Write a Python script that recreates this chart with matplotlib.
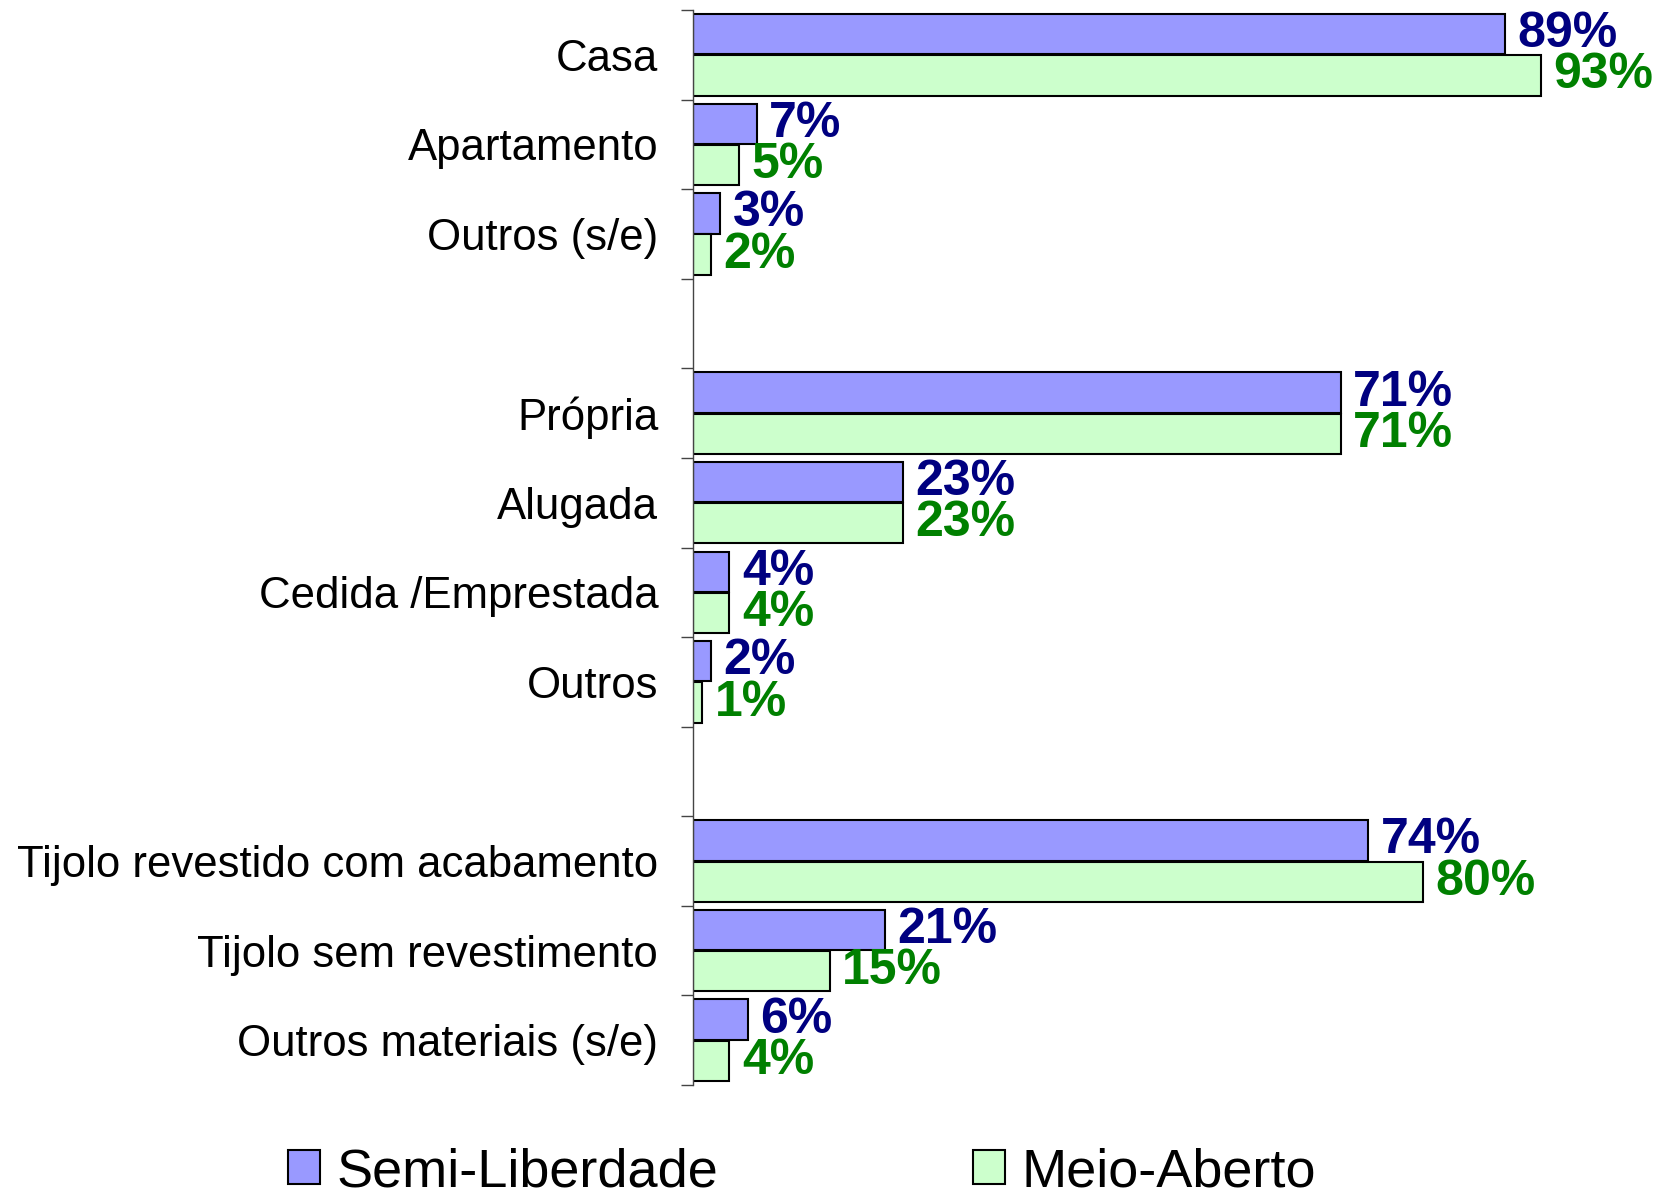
import matplotlib
matplotlib.use("Agg")
import matplotlib.pyplot as plt
import numpy as np

categories = ["Casa", "Apartamento", "Outros (s/e)", "",
              "Própria", "Alugada", "Cedida /Emprestada", "Outros", "",
              "Tijolo revestido com acabamento", "Tijolo sem revestimento", "Outros materiais (s/e)"]
semi_liberdade = [89, 7, 3, None, 71, 23, 4, 2, None, 74, 21, 6]
meio_aberto = [93, 5, 2, None, 71, 23, 4, 1, None, 80, 15, 4]
series_names = ["Semi-Liberdade", "Meio-Aberto"]

plt.rcParams['font.family'] = ['Liberation Sans', 'DejaVu Sans']

fig = plt.figure(figsize=(16.59, 11.93), dpi=100)
ax = fig.add_axes([0.4177, 0.0905, 0.5498, 0.9011])

n = len(categories)
pos = np.arange(n)
h = 0.45
blue_c = "#9999FF"
green_c = "#CCFFCC"

bars = []
for vals, off, col, tc, name in [(semi_liberdade, -0.23, blue_c, "#000080", series_names[0]),
                                 (meio_aberto, 0.23, green_c, "#008000", series_names[1])]:
    idx = [i for i, v in enumerate(vals) if v is not None]
    v = [vals[i] for i in idx]
    b = ax.barh(pos[idx] + off, v, height=h, color=col, edgecolor="black", linewidth=1.5, label=name)
    bars.append(b)
    for i, val in zip(idx, v):
        ax.annotate(f"{val}%", (val, i + off), xytext=(9, 0), textcoords="offset points",
                    ha="left", va="center", fontsize=36, fontweight="bold", color=tc)

ax.set_xlim(0, 100)
ax.set_ylim(n - 0.5, -0.5)
ax.set_xticks([])
ax.set_yticks(np.arange(n + 1) - 0.5)
ax.set_yticklabels([])
ax.tick_params(axis="y", which="major", length=9, width=1, color="#444444")
ax.set_yticks(pos, minor=True)
ax.set_yticklabels(categories, minor=True, fontsize=31.5)
ax.tick_params(axis="y", which="minor", length=0, pad=25)
for s in ["top", "right", "bottom"]:
    ax.spines[s].set_visible(False)
ax.spines["left"].set_color("#444444")
ax.spines["left"].set_linewidth(1)

fig.legend(handles=bars, labels=series_names, loc="center left", bbox_to_anchor=(0.1735, 0.0176),
           ncol=2, frameon=False, fontsize=39, handlelength=0.6, handleheight=0.6,
           handletextpad=0.3, columnspacing=4.7, borderaxespad=0, borderpad=0)

fig.savefig("out.png", dpi=100)
